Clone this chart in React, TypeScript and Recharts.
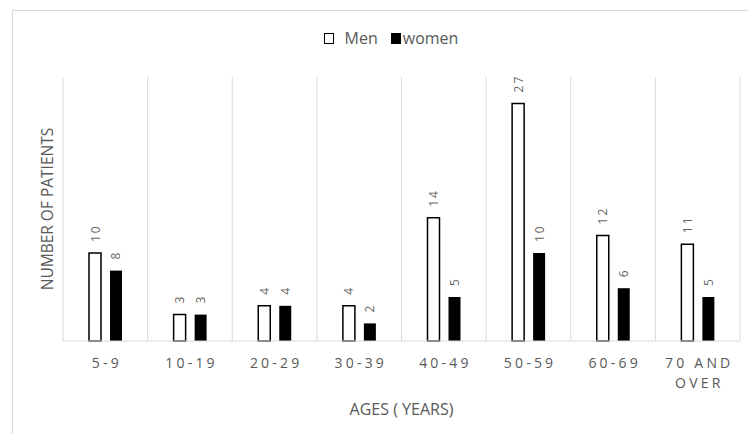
import React from "react";
import {
  BarChart,
  Bar,
  XAxis,
  YAxis,
  CartesianGrid,
  Legend,
  Label,
} from "recharts";

const categories = ["5-9", "10-19", "20-29", "30-39", "40-49", "50-59", "60-69", "70 AND OVER"];
const menValues = [10, 3, 4, 4, 14, 27, 12, 11];
const womenValues = [8, 3, 4, 2, 5, 10, 6, 5];
const seriesNames = ["Men", "women"];
const yDomain = [0, 30];
const xTitle = "AGES ( YEARS)";
const yTitle = "NUMBER OF PATIENTS";

const data = categories.map((c, i) => ({ age: c, men: menValues[i], women: womenValues[i] }));

const TEXT = "#595959";
const GRID = "#d9d9d9";
const FONT = "'Open Sans', 'Liberation Sans', sans-serif";
const legendFill: Record<string, string> = { men: "#ffffff", women: "#000000" };
const iconGap = [11, 2];

function wrapWords(s: string, maxChars: number): string[] {
  const words = s.split(" ");
  const lines: string[] = [];
  let cur = "";
  for (const w of words) {
    if (cur === "") cur = w;
    else if ((cur + " " + w).length <= maxChars) cur = cur + " " + w;
    else {
      lines.push(cur);
      cur = w;
    }
  }
  if (cur) lines.push(cur);
  return lines;
}

const CategoryTick = (props: any) => {
  const { x, y, payload } = props;
  const lines = wrapWords(String(payload.value), 7);
  return (
    <text x={x} y={y} textAnchor="middle" fill={TEXT} fontSize={14} letterSpacing={3.2} fontFamily={FONT}>
      {lines.map((l, i) => (
        <tspan key={i} x={x + 1.6} dy={i === 0 ? 27 : 19.7}>
          {l}
        </tspan>
      ))}
    </text>
  );
};

const ValueLabel = (props: any) => {
  const { x, y, width, value } = props;
  const cx = x + width / 2;
  const cy = y - 11;
  return (
    <text
      x={cx}
      y={cy}
      transform={`rotate(-90 ${cx} ${cy})`}
      textAnchor="start"
      dominantBaseline="central"
      fill="#666666"
      fontSize={12}
      letterSpacing={2}
      fontFamily={FONT}
    >
      {value}
    </text>
  );
};

const LegendContent = (props: any) => {
  const { payload } = props;
  return (
    <div
      style={{
        display: "flex",
        justifyContent: "center",
        alignItems: "center",
        fontFamily: FONT,
        fontSize: 16,
        lineHeight: "20px",
        color: TEXT,
      }}
    >
      {(payload || []).map((entry: any, i: number) => (
        <div key={i} style={{ display: "flex", alignItems: "center", marginRight: i === 0 ? 13 : 0 }}>
          <span
            style={{
              display: "inline-block",
              width: 10,
              height: 11,
              boxSizing: "border-box",
              background: legendFill[entry.dataKey] ?? entry.color,
              border: "1.5px solid #000",
              marginRight: iconGap[i] ?? 4,
            }}
          />
          <span>{entry.value}</span>
        </div>
      ))}
    </div>
  );
};

export default function App() {
  return (
    <div
      style={{
        position: "absolute",
        left: 0,
        top: 0,
        width: 748,
        height: 434,
        overflow: "hidden",
        background: "#fff",
        fontFamily: FONT,
      }}
    >
      <div
        style={{
          position: "absolute",
          left: 12,
          top: 10,
          width: 800,
          height: 500,
          border: `1px solid ${GRID}`,
        }}
      />
      <div style={{ position: "absolute", left: 0, top: 0 }}>
        <BarChart
          width={748}
          height={434}
          data={data}
          margin={{ top: 77, right: 8, bottom: 17, left: 31 }}
          barSize={12}
          barGap={9}
        >
          <CartesianGrid
            horizontal={false}
            stroke={GRID}
            strokeWidth={1}
            verticalCoordinatesGenerator={(p: any) => {
              const off = p.offset;
              return categories
                .map((_, i) => off.left + (i * off.width) / categories.length)
                .concat([off.left + off.width]);
            }}
          />
          <XAxis
            dataKey="age"
            height={76}
            tickLine={false}
            tickSize={0}
            tickMargin={0}
            axisLine={{ stroke: GRID, strokeWidth: 1 }}
            tick={<CategoryTick />}
            interval={0}
          >
            <Label
              value={xTitle}
              position="insideBottom"
              offset={2}
              fill={TEXT}
              fontSize={16}
              fontFamily={FONT}
            />
          </XAxis>
          <YAxis
            domain={yDomain}
            width={32}
            tick={false}
            tickLine={false}
            axisLine={false}
          >
            <Label
              value={yTitle}
              angle={-90}
              position="center"
              fill={TEXT}
              fontSize={15.5}
              fontFamily={FONT}
            />
          </YAxis>
          <Legend
            verticalAlign="middle"
            align="center"
            layout="horizontal"
            wrapperStyle={{ top: 28, left: 17, width: 748 }}
            content={<LegendContent />}
          />
          <Bar
            dataKey="men"
            name={seriesNames[0]}
            fill="#ffffff"
            stroke="#000000"
            strokeWidth={1.5}
            isAnimationActive={false}
            label={<ValueLabel />}
          />
          <Bar
            dataKey="women"
            name={seriesNames[1]}
            fill="#000000"
            isAnimationActive={false}
            label={<ValueLabel />}
          />
        </BarChart>
      </div>
    </div>
  );
}
